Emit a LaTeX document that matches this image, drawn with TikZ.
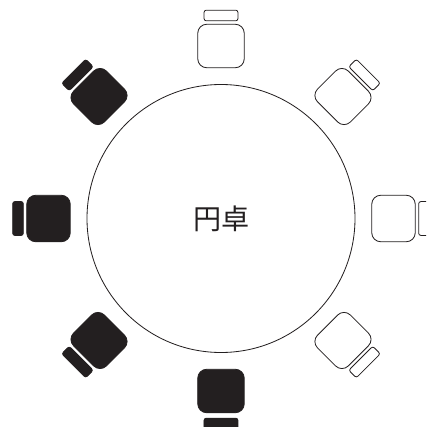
\documentclass[tikz,border=0pt]{standalone}
\usepackage{fontspec}
\newfontfamily\cjk{Noto Sans CJK JP}
\definecolor{ink}{HTML}{231F20}
\begin{document}
\begin{tikzpicture}[
    table/.style={draw=ink, circle, line width=0.7pt, inner sep=0pt, minimum size=8.04cm},
    tablename/.style={text=ink, inner sep=0pt, font=\cjk\fontsize{24}{24}\selectfont},
    seat/.style={draw=ink, rectangle, line width=0.7pt, rounded corners=0.27cm, inner sep=0pt, minimum width=1.395cm, minimum height=1.305cm, fill=white},
    back/.style={draw=ink, rectangle, line width=0.7pt, rounded corners=0.07cm, inner sep=0pt, minimum width=1.02cm, minimum height=0.32cm, fill=white},
    dark/.style={fill=ink},
]

\useasboundingbox (-6.63, -6.255) rectangle (6.15, 6.555);
\clip (-6.63, -6.255) rectangle (6.15, 6.555);

% Table
\node[table] (table) at (0, 0) {};
\node[tablename] (tablelabel) at (0.03, 0) {円卓};

% Empty chairs
\node[seat, rotate=0] (seatN) at (90:5.175) {};
\node[back, rotate=0] (backN) at (90:6.09) {};
\node[seat, rotate=-45] (seatNE) at (45:5.175) {};
\node[back, rotate=-45] (backNE) at (45:6.09) {};
\node[seat, rotate=-90] (seatE) at (0:5.175) {};
\node[back, rotate=-90] (backE) at (0:6.09) {};
\node[seat, rotate=-135] (seatSE) at (-45:5.175) {};
\node[back, rotate=-135] (backSE) at (-45:6.09) {};

% Taken chairs
\node[seat, dark, rotate=45] (seatNW) at (135:5.175) {};
\node[back, dark, rotate=45] (backNW) at (135:6.09) {};
\node[seat, dark, rotate=90] (seatW) at (180:5.175) {};
\node[back, dark, rotate=90] (backW) at (180:6.09) {};
\node[seat, dark, rotate=135] (seatSW) at (225:5.175) {};
\node[back, dark, rotate=135] (backSW) at (225:6.09) {};
\node[seat, dark, rotate=180] (seatS) at (270:5.175) {};
\node[back, dark, rotate=180] (backS) at (270:6.15) {};

\end{tikzpicture}
\end{document}
